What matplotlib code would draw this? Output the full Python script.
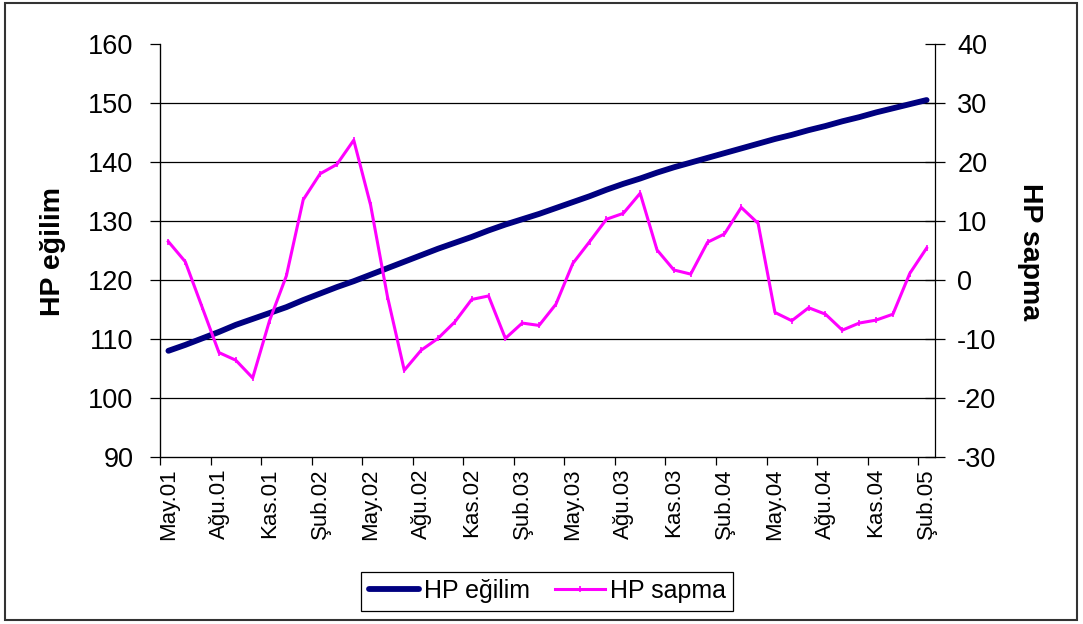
import matplotlib
matplotlib.use("Agg")
import matplotlib.pyplot as plt
from matplotlib.patches import Rectangle
from matplotlib.ticker import FixedLocator

plt.rcParams['font.family'] = ['Liberation Sans', 'DejaVu Sans']
plt.rcParams['axes.unicode_minus'] = False

# aylar: May.01 - Şub.05
aylar = ["Oca", "Şub", "Mar", "Nis", "May", "Haz", "Tem", "Ağu", "Eyl", "Eki", "Kas", "Ara"]
etiketler = []
for yil in range(2001, 2006):
    for i, ay in enumerate(aylar):
        if (yil == 2001 and i < 4) or (yil == 2005 and i > 1):
            continue
        etiketler.append("{}.{:02d}".format(ay, yil % 100))

hp_egilim = [108.0, 109.0, 110.1, 111.2, 112.4, 113.4, 114.4, 115.4, 116.6, 117.7,
             118.8, 119.8, 120.9, 122.0, 123.1, 124.2, 125.3, 126.3, 127.3, 128.4,
             129.4, 130.3, 131.2, 132.2, 133.2, 134.2, 135.3, 136.3, 137.2, 138.2,
             139.1, 139.9, 140.7, 141.5, 142.3, 143.1, 143.9, 144.6, 145.4, 146.1,
             146.9, 147.6, 148.4, 149.1, 149.8, 150.5]
hp_sapma = [6.5, 3.1, -4.6, -12.3, -13.6, -16.6, -6.9, 0.7, 13.6, 18.0,
            19.6, 23.7, 12.7, -2.8, -15.3, -11.9, -9.9, -7.1, -3.3, -2.7,
            -9.9, -7.3, -7.7, -4.1, 2.8, 6.5, 10.3, 11.3, 14.7, 5.1,
            1.7, 1.0, 6.4, 7.8, 12.3, 9.6, -5.5, -6.9, -4.7, -5.8,
            -8.5, -7.3, -6.8, -5.8, 1.1, 5.4]

x = list(range(len(etiketler)))

fig = plt.figure(figsize=(10.83, 6.24), dpi=100)
ax = fig.add_axes([160/1083, 1-457/624, 775/1083, 413/624])
ax2 = ax.twinx()

l1, = ax.plot(x, hp_egilim, color="#000080", linewidth=4.2, solid_capstyle="round",
              label="HP eğilim")
l2, = ax2.plot(x, hp_sapma, color="#FF00FF", linewidth=2.2, marker="|", markersize=4,
               markeredgewidth=1.2, label="HP sapma")

ax.set_xlim(-0.5, len(x) - 0.5)
ax.set_ylim(90, 160)
ax.set_yticks(range(90, 161, 10))
ax2.set_ylim(-30, 40)
ax2.set_yticks(range(-30, 41, 10))

for yv in range(100, 151, 10):
    ax.axhline(yv, color="black", linewidth=0.9, zorder=0)

ax.set_xticks(x[::3])
ax.set_xticklabels(etiketler[::3], rotation=90, fontsize=16)
ax.xaxis.set_minor_locator(FixedLocator([i - 0.5 for i in x[::3]]))
ax.tick_params(axis="x", which="major", length=0, pad=8)
ax.tick_params(axis="x", which="minor", length=6, width=0.9, direction="out")
ax.tick_params(axis="y", labelsize=19.5, length=7, width=0.9, pad=12)
ax2.tick_params(axis="y", labelsize=19.5, length=14, width=0.9, direction="inout", pad=9)

for s in ["top"]:
    ax.spines[s].set_visible(False)
    ax2.spines[s].set_visible(False)
ax.spines["right"].set_visible(False)
for s in ["left", "bottom"]:
    ax.spines[s].set_linewidth(0.9)
ax2.spines["right"].set_linewidth(0.9)

fig.text(53/1083, 1-251/624, "HP eğilim", rotation=90, ha="center", va="center",
         fontsize=20.5, fontweight="bold")
fig.text(1030/1083, 1-252/624, "HP sapma", rotation=-90, ha="center", va="center",
         fontsize=20.5, fontweight="bold")

leg = fig.legend([l1, l2], ["HP eğilim", "HP sapma"], loc="center",
                 bbox_to_anchor=(547/1083, 1-591/624), ncol=2, fontsize=18,
                 frameon=True, fancybox=False, edgecolor="black", framealpha=1,
                 handlelength=2.0, columnspacing=1.0, handletextpad=0.2,
                 borderpad=0.3)
leg.get_frame().set_linewidth(0.9)

fig.patches.append(Rectangle((5/1083, 1-620/624), 1072/1083, 617/624,
                             transform=fig.transFigure, fill=False,
                             edgecolor="#333333", linewidth=1.5))

fig.savefig("out.png", dpi=100)
